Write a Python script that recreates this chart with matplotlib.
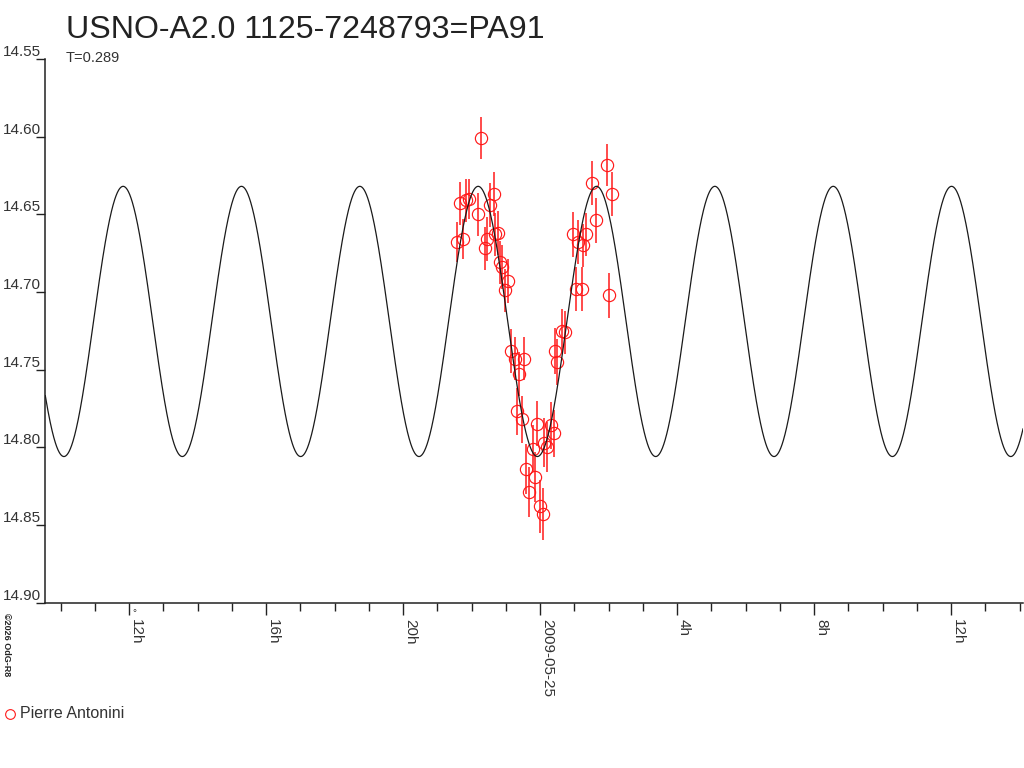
import numpy as np
import matplotlib
matplotlib.use("Agg")
import matplotlib.pyplot as plt
from matplotlib.ticker import FixedLocator, MultipleLocator

# ---------------- data ----------------
title = "USNO-A2.0 1125-7248793=PA91"
subtitle = "T=0.289"
observer = "Pierre Antonini"

# hours relative to 2009-05-25 00h UT
hours = [-2.423, -2.336, -2.239, -2.169, -2.073, -1.819, -1.731, -1.597, -1.539, -1.460,
         -1.352, -1.314, -1.235, -1.168, -1.101, -1.013, -0.943, -0.847, -0.730, -0.604,
         -0.467, -0.680, -0.534, -0.400, -0.321, -0.213, -0.155, -0.079, -0.009, 0.079,
         0.126, 0.213, 0.312, 0.409, 0.438, 0.505, 0.634, 0.730, 0.972, 1.060,
         1.118, 1.218, 1.264, 1.343, 1.509, 1.644, 1.965, 2.023, 2.093]
mags = [14.668, 14.643, 14.666, 14.641, 14.640, 14.650, 14.601, 14.672, 14.666, 14.644,
        14.637, 14.663, 14.662, 14.681, 14.684, 14.699, 14.693, 14.738, 14.743, 14.753,
        14.743, 14.777, 14.782, 14.814, 14.829, 14.801, 14.819, 14.785, 14.838, 14.843,
        14.797, 14.800, 14.786, 14.791, 14.738, 14.745, 14.725, 14.726, 14.663, 14.698,
        14.668, 14.698, 14.670, 14.663, 14.630, 14.654, 14.618, 14.702, 14.637]
errs = [0.013, 0.014, 0.013, 0.014, 0.013, 0.014, 0.0135, 0.014, 0.014, 0.014,
        0.014, 0.014, 0.014, 0.014, 0.014, 0.014, 0.014, 0.014, 0.014, 0.014,
        0.014, 0.015, 0.015, 0.016, 0.016, 0.015, 0.016, 0.0145, 0.017, 0.017,
        0.016, 0.016, 0.015, 0.015, 0.015, 0.015, 0.014, 0.014, 0.0145, 0.014,
        0.014, 0.014, 0.014, 0.014, 0.014, 0.0145, 0.0135, 0.0145, 0.014]

# model light curve parameters (from the fit drawn on the chart)
period_days = 0.289          # T
wave_period_h = 3.456        # visible wave period (double wave => T/2)
mean_mag = 14.719
amplitude = 0.087
epoch_max_h = -1.81          # time of a light maximum (hours rel. 2009-05-25 0h)

xticks_major = [-12, -8, -4, 0, 4, 8, 12]
xtick_labels = ["12h", "16h", "20h", "2009-05-25", "4h", "8h", "12h"]
yticks = [14.55, 14.60, 14.65, 14.70, 14.75, 14.80, 14.85, 14.90]

# ---------------- figure ----------------
plt.rcParams['font.family'] = ['Liberation Sans', 'DejaVu Sans']
W, H = 1024, 768
fig = plt.figure(figsize=(W / 100, H / 100), dpi=100)
x0, x1, ytop, ybot = 45.3, 1023.0, 59.0, 602.5
ax = fig.add_axes([x0 / W, (H - ybot) / H, (x1 - x0) / W, (ybot - ytop) / H])

xmin, xmax = -14.45, 14.10
ax.set_xlim(xmin, xmax)
ax.set_ylim(14.90, 14.55)

# points
ax.errorbar(hours, mags, yerr=errs, fmt='o', mfc='none', mec='#ff1a1a',
            ecolor='#ff1a1a', ms=8.8, mew=0.85, elinewidth=1.1, capsize=0, zorder=2)

# model curve
t = np.linspace(xmin, xmax, 3000)
model = mean_mag - amplitude * np.cos(2 * np.pi * (t - epoch_max_h) / wave_period_h)
ax.plot(t, model, color='#1a1a1a', lw=0.9, zorder=3)

# spines
for s in ['top', 'right']:
    ax.spines[s].set_visible(False)
for s in ['left', 'bottom']:
    ax.spines[s].set_color('#222222')
    ax.spines[s].set_linewidth(1.1)

# x ticks
ax.xaxis.set_major_locator(FixedLocator(xticks_major))
ax.xaxis.set_minor_locator(MultipleLocator(1))
ax.set_xticklabels(xtick_labels)
ax.tick_params(axis='x', which='major', direction='out', length=8.5, width=1.0,
               color='#222222', labelsize=11, labelcolor='#333333', pad=3.5)
ax.tick_params(axis='x', which='minor', direction='out', length=6, width=1.0,
               color='#222222')
for lab in ax.get_xticklabels():
    lab.set_rotation(-90)
    lab.set_ha('left')
    lab.set_va('top')

# y ticks
ax.set_yticks(yticks)
ax.set_yticklabels([f"{v:.2f}" for v in yticks])
ax.tick_params(axis='y', which='major', direction='out', length=6.5, width=1.0,
               color='#222222', labelsize=11, labelcolor='#333333', pad=-3.5)
for lab in ax.get_yticklabels():
    lab.set_va('bottom')

# texts
fig.text(66 / W, 1 - 30 / H, title, fontsize=23.1, color='#222222', ha='left', va='center')
fig.text(66 / W, 1 - 58 / H, subtitle, fontsize=10.5, color='#333333', ha='left', va='center')
fig.text(134 / W, 1 - 613 / H, "°", fontsize=7, color='#333333', ha='center', va='center')
fig.text(6 / W, 1 - 645 / H, "©2026 OdG-R8", fontsize=6.5, color='#222222', rotation=-90,
         ha='center', va='center', fontweight='bold')

# legend
fig.lines.append(plt.Line2D([10 / W], [1 - 714 / H], transform=fig.transFigure,
                            marker='o', mfc='none', mec='#ff1a1a', ms=7, mew=0.8, ls='none'))
fig.text(20 / W, 1 - 713 / H, observer, fontsize=11.5, color='#333333', ha='left', va='center')

fig.savefig("out.png", dpi=100, facecolor='white')
